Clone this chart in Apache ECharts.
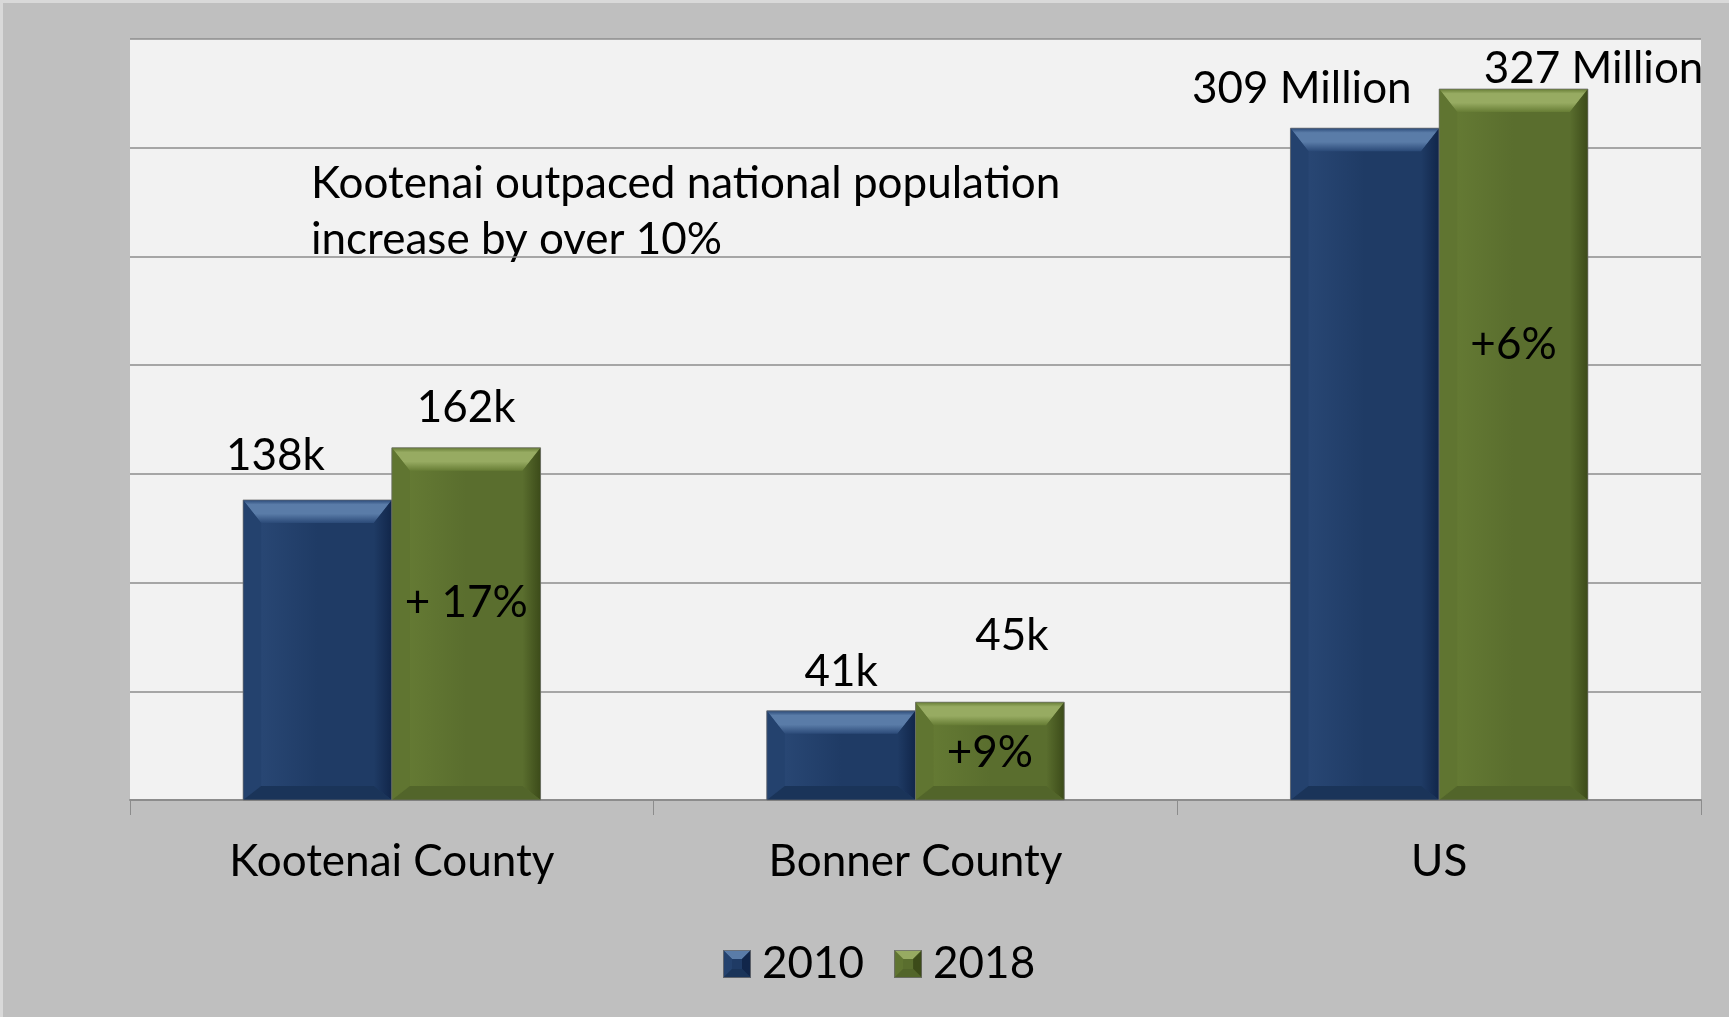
<!DOCTYPE html>
<html>
<head>
<meta charset="utf-8">
<title>Population growth 2010–2018</title>
<script src="https://cdn.jsdelivr.net/npm/echarts@6/dist/echarts.min.js"></script>
<style>
  html, body { margin: 0; padding: 0; background: #bfbfbf; }
  #chart { width: 1729px; height: 1017px; box-sizing: border-box; border: 3px solid #d9d9d9; border-right: none; border-bottom: none; }
</style>
</head>
<body>
<div id="chart"></div>
<script>
// Population by area (thousands for counties, millions for the US as plotted)
const categories = ['Kootenai County', 'Bonner County', 'US'];
const seriesNames = ['2010', '2018'];
const pop2010 = [138, 41, 309];
const pop2018 = [162, 45, 327];
const labels2010 = ['138k', '41k', '309 Million'];
const labels2018 = ['162k', '45k', '327 Million'];
const growthLabels = ['+ 17%', '+9%', '+6%'];
const noteLines = ['Kootenai outpaced national population', 'increase by over 10%'];

// Label placement tweaks (pixels from the bar top centre)
const nudge2010 = [[-42, -44], [0, -39], [-63, -39]];
const nudge2018 = [[0, -40], [22, -66], [80, -20]];
// Where the growth label sits, as a share of the 2018 bar height
const growthLevel = [0.56, 0.48, 0.64];

const FONT = 'Lato, "Open Sans", sans-serif';
const FS = 44;
const palette = [
  { base: '#1f3b65', light: '#5a7ca8', mid: '#2b4a78', left: '#24426e', right: '#11264a', bottom: '#1a3459' },
  { base: '#5a6e2e', light: '#97ab62', mid: '#677d35', left: '#607531', right: '#3c4b19', bottom: '#52652a' }
];

// Small bevelled square used as the legend marker
function bevelIcon(c) {
  const n = 28, k = 9;
  const cv = document.createElement('canvas');
  cv.width = n; cv.height = n;
  const g = cv.getContext('2d');
  const poly = (pts, fill) => { g.beginPath(); pts.forEach((p, i) => i ? g.lineTo(p[0], p[1]) : g.moveTo(p[0], p[1])); g.closePath(); g.fillStyle = fill; g.fill(); };
  g.fillStyle = c.base; g.fillRect(0, 0, n, n);
  poly([[0, 0], [n, 0], [n - k, k], [k, k]], c.light);
  poly([[0, 0], [k, k], [k, n - k], [0, n]], c.left);
  poly([[n, 0], [n, n], [n - k, n - k], [n - k, k]], c.right);
  poly([[0, n], [k, n - k], [n - k, n - k], [n, n]], c.bottom);
  g.strokeStyle = 'rgba(110,110,110,0.8)'; g.lineWidth = 1; g.strokeRect(0.5, 0.5, n - 1, n - 1);
  return 'image://' + cv.toDataURL();
}

function bevelBar(si, labels, nudges) {
  return function (params, api) {
    const cat = api.value(0);
    const v = api.value(1);
    const base = api.coord([cat, 0]);
    const top = api.coord([cat, v]);
    const band = api.size([1, 0])[0];
    const bw = band * 0.284;
    const x0 = si === 0 ? base[0] - bw : base[0];
    const x1 = x0 + bw;
    const yT = top[1], yB = base[1];
    const c = palette[si];
    const b = 18, bt = 23, bb = 14;
    const G = echarts.graphic.LinearGradient;
    const kids = [
      { type: 'rect', shape: { x: x0, y: yT, width: bw, height: yB - yT },
        style: { fill: new G(0, 0, 1, 0, [{ offset: 0, color: c.mid }, { offset: 0.5, color: c.base }, { offset: 1, color: c.base }]) } },
      { type: 'polygon', shape: { points: [[x0, yT], [x1, yT], [x1 - b, yT + bt], [x0 + b, yT + bt]] },
        style: { fill: new G(0, 0, 0, 1, [{ offset: 0, color: c.mid }, { offset: 0.2, color: c.light }, { offset: 0.6, color: c.light }, { offset: 1, color: c.mid }]) } },
      { type: 'polygon', shape: { points: [[x0, yT], [x0 + b, yT + bt], [x0 + b, yB - bb], [x0, yB]] },
        style: { fill: c.left } },
      { type: 'polygon', shape: { points: [[x1, yT], [x1, yB], [x1 - b, yB - bb], [x1 - b, yT + bt]] },
        style: { fill: new G(0, 0, 1, 0, [{ offset: 0, color: c.base }, { offset: 1, color: c.right }]) } },
      { type: 'polygon', shape: { points: [[x0, yB], [x0 + b, yB - bb], [x1 - b, yB - bb], [x1, yB]] },
        style: { fill: c.bottom } },
      { type: 'rect', shape: { x: x0, y: yT, width: bw, height: yB - yT },
        style: { fill: null, stroke: 'rgba(110,110,110,0.7)', lineWidth: 1 } },
      { type: 'text', x: (x0 + x1) / 2 + nudges[cat][0], y: yT + nudges[cat][1],
        style: { text: labels[cat], fontSize: FS, fontFamily: FONT, fill: '#000', align: 'center', verticalAlign: 'middle' } }
    ];
    if (si === 1) {
      const gy = api.coord([cat, v * growthLevel[cat]])[1];
      kids.push({ type: 'text', x: (x0 + x1) / 2, y: gy,
        style: { text: growthLabels[cat], fontSize: FS, fontFamily: FONT, fill: '#000', align: 'center', verticalAlign: 'middle' } });
    }
    return { type: 'group', children: kids };
  };
}

const chart = echarts.init(document.getElementById('chart'));
chart.setOption({
  animation: false,
  backgroundColor: '#bfbfbf',
  grid: { left: 127, right: 28, top: 36, bottom: 217, show: true, backgroundColor: '#f2f2f2', borderWidth: 0 },
  xAxis: {
    type: 'category',
    data: categories,
    axisLine: { lineStyle: { color: '#8c8c8c', width: 2 } },
    axisTick: { show: true, length: 15, lineStyle: { color: '#8c8c8c', width: 1 } },
    axisLabel: { color: '#000', fontSize: FS, fontFamily: FONT, margin: 40, lineHeight: 44 }
  },
  yAxis: {
    type: 'value', min: 0, max: 350, interval: 50,
    axisLabel: { show: false }, axisLine: { show: false }, axisTick: { show: false },
    splitLine: { lineStyle: { color: '#8c8c8c', width: 1.5 } }
  },
  legend: {
    data: seriesNames.map((n, i) => ({ name: n, icon: bevelIcon(palette[i]) })),
    left: 720, top: 939, padding: 0,
    itemWidth: 28, itemHeight: 28, itemGap: 30,
    textStyle: { color: '#000', fontSize: FS, fontFamily: FONT, padding: [0, 0, 0, 6] }
  },
  graphic: [{
    type: 'text', left: 308, top: 153,
    style: { text: noteLines.join('\n'), fontSize: FS, lineHeight: 56, fontFamily: FONT, fill: '#000' }
  }],
  series: [
    { name: seriesNames[0], type: 'custom', itemStyle: { color: palette[0].base },
      encode: { x: 0, y: 1 }, data: pop2010.map((v, i) => [i, v]), renderItem: bevelBar(0, labels2010, nudge2010) },
    { name: seriesNames[1], type: 'custom', itemStyle: { color: palette[1].base },
      encode: { x: 0, y: 1 }, data: pop2018.map((v, i) => [i, v]), renderItem: bevelBar(1, labels2018, nudge2018) }
  ]
});
</script>
</body>
</html>
